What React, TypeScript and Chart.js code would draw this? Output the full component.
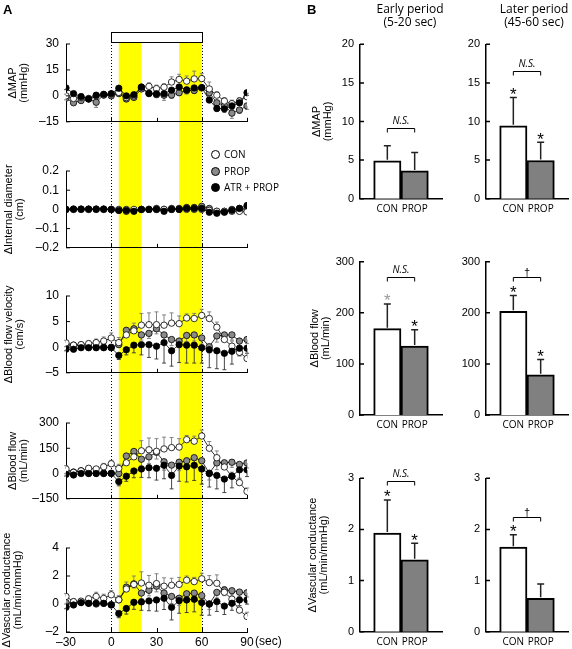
import React, { useEffect, useRef } from 'react';
import { Chart, registerables } from 'chart.js';

Chart.register(...registerables);

const AX = "'Liberation Sans', Arial, Helvetica, sans-serif";
const OS = "'Open Sans', 'Noto Sans', sans-serif";

// ---------------- Panel A data ----------------
const TIMES = [-30, -25, -20, -15, -10, -5, 0, 5, 10, 15, 20, 25, 30, 35, 40, 45, 50, 55, 60, 65, 70, 75, 80, 85, 90];
const STIM_PERIOD = [0, 60];
const EARLY_BAND = [5, 20];
const LATER_BAND = [45, 60];
const GROUPS = ['CON', 'PROP', 'ATR + PROP'];

const MAP_CON = [0, -1.5, -1, -1.5, 0, 0.5, 1, 2, -1, 0, 5, 5.5, 4.2, 5, 8, 9.5, 8.5, 9.8, 10, 4, 0.4, -3, -4.5, -3, -0.5];
const MAP_PROP = [-1.3, -4, -2.7, -1.8, -3.7, 0.5, 0, 1.3, -1.8, -0.9, 4, 1.5, 0.7, 0.4, 0.5, 1.8, 3.1, 3.1, 4.6, 1.8, -4, -5.5, -10, -8.2, -5.8];
const MAP_ATR = [4.6, 1.3, -0.4, -1.8, 0.4, 0.9, 1.3, 4.4, 0, 0.7, 5.1, 1.3, 1.2, 1.3, 3.3, 5.1, 3.5, 4.6, 4.8, -2.4, -7.3, -7.5, -5.8, -4, 1.8];
const MAP_CON_ERR = [1, 1.5, 1, 1, 1.5, 1, 1, 1.5, 1.5, 1, 1.5, 2, 2, 2, 3, 3, 3, 4.5, 3, 4, 2, 2, 2, 2, 2];
const MAP_PROP_ERR = [1, 1, 1.5, 1, 3, 1, 1, 1, 1.5, 1, 1, 1, 1.5, 3, 2, 1.5, 2, 1.5, 1.5, 2, 2, 2, 3, 2, 2];
const MAP_ATR_ERR = [1, 1, 1, 1, 1, 1, 1, 1, 1, 1, 1, 1, 1, 1, 1.5, 1.5, 1.5, 1.5, 1.5, 1.5, 1.5, 2, 2, 1.5, 1.5];

const DIA_CON = [0, 0, 0, 0, 0, 0, 0, 0, 0, 0, 0, 0, 0, 0, 0, 0, 0, 0, 0, -0.005, -0.01, -0.01, -0.01, -0.01, -0.013];
const DIA_PROP = [0, 0, 0, 0, 0, 0, 0, -0.005, -0.01, -0.005, 0, 0, 0.005, 0, 0.005, 0.005, 0.01, 0.01, 0.016, 0.005, -0.01, -0.01, 0, 0.005, 0];
const DIA_ATR = [0, 0.002, 0.002, 0.002, 0.002, 0.002, 0, -0.005, -0.005, -0.01, 0, 0, 0, -0.01, 0, 0, 0.005, 0.005, 0.005, -0.015, -0.02, -0.015, -0.005, 0.005, 0.02];

const VEL_CON = [0.85, 0.4, 0.5, 0.7, 0.9, 1.2, 1.8, 0.9, 2.4, 3.2, 4.3, 4.4, 4.4, 4.3, 4.7, 4.6, 5.7, 5.6, 6.2, 5.6, 3.9, 1.5, 0.2, -1, -2.2];
const VEL_PROP = [0.4, 0.4, 0.4, 0, 0, 0, 0, 0.5, 3.3, 3.6, 2.4, 2.7, 3.6, 2.4, 1.5, 1.2, 2.3, 2.4, 1.8, 0.1, 2.2, 2.4, 2.4, 1.2, 1.5];
const VEL_ATR = [-0.4, -0.4, -0.1, -0.1, -0.1, -0.1, -0.1, -1.6, -0.5, 0.4, 0.5, 0.5, 0.2, 0.9, -0.7, 0.5, 0.4, 0.4, -0.1, -0.5, -0.7, -1.2, -0.8, -0.2, -0.2];
const VEL_CON_ERR = [0.5, 0.5, 0.5, 0.5, 0.7, 0.8, 1, 1, 1, 1.5, 2.3, 2.3, 2.5, 2, 2, 1.5, 0.8, 1, 1.2, 1.3, 1, 1, 1, 1, 1];
const VEL_PROP_ERR = [0.3, 0.3, 0.3, 0.3, 0.3, 0.3, 0.3, 0.5, 0.8, 0.8, 1, 1, 1, 1.2, 1.2, 1.2, 1.2, 1.2, 1.2, 1.2, 1.2, 1.2, 1, 1, 0.8];
const VEL_ATR_ERR = [0.3, 0.3, 0.3, 0.3, 0.3, 0.3, 0.3, 0.8, 1, 1.5, 2, 2.5, 2.5, 4, 3, 3.5, 3.5, 3.5, 3, 3.5, 3.5, 3.2, 2.5, 1.5, 1];

const BF_CON = [27, 7, 16, 31, 27, 40, 58, 30, 64, 99, 135, 141, 132, 146, 154, 157, 201, 192, 223, 150, 94, 39, -17, -54, -106];
const BF_PROP = [9, 9, 16, 2, 2, 2, 2, 0, 104, 131, 85, 99, 126, 70, 50, 67, 76, 94, 76, 2, 63, 64, 67, 54, 63];
const BF_ATR = [-5, -9, 0, 0, 0, 0, 0, -48, -16, 15, 27, 35, 31, 49, -11, 44, 40, 49, 27, 0, -11, -33, -15, 22, 22];
const BF_CON_ERR = [20, 15, 15, 15, 15, 20, 20, 25, 30, 40, 60, 70, 75, 70, 60, 50, 25, 30, 35, 40, 40, 30, 25, 20, 20];
const BF_PROP_ERR = [10, 10, 10, 10, 10, 10, 10, 20, 30, 30, 40, 40, 40, 50, 50, 50, 50, 50, 40, 40, 40, 40, 30, 30, 30];
const BF_ATR_ERR = [10, 10, 10, 10, 10, 10, 10, 25, 30, 40, 50, 60, 70, 80, 80, 90, 90, 90, 90, 80, 80, 80, 70, 50, 40];

const VC_CON = [0.54, 0.17, 0.2, 0.37, 0.54, 0.4, 0.66, 0.3, 1.07, 1.4, 1.5, 1.34, 1.46, 1.27, 1.34, 1.4, 1.7, 1.6, 1.8, 1.53, 1.48, 0.84, 0.35, -0.44, -0.89];
const VC_PROP = [0.1, 0.1, 0.12, 0.05, 0, 0.05, -0.07, 0.3, 1.2, 1.44, 0.78, 0.98, 1.27, 0.78, 0.54, 0.41, 0.73, 0.78, 0.6, 0, 0.83, 1.0, 0.95, 0.85, 0.8];
const VC_ATR = [-0.24, -0.07, 0.1, 0.05, 0.05, 0.05, -0.05, -0.68, -0.32, 0.12, 0.15, 0.22, 0.29, 0.41, -0.24, 0.24, 0.29, 0.34, 0.1, 0, 0.17, -0.15, 0.05, 0.29, 0.29];
const VC_CON_ERR = [0.2, 0.2, 0.2, 0.2, 0.3, 0.3, 0.3, 0.3, 0.5, 0.6, 0.8, 0.7, 0.7, 0.6, 0.5, 0.5, 0.3, 0.3, 0.4, 0.5, 0.6, 0.4, 0.4, 0.3, 0.3];
const VC_PROP_ERR = [0.1, 0.1, 0.1, 0.1, 0.1, 0.1, 0.1, 0.2, 0.3, 0.3, 0.4, 0.4, 0.4, 0.5, 0.5, 0.5, 0.5, 0.5, 0.4, 0.4, 0.4, 0.4, 0.3, 0.3, 0.3];
const VC_ATR_ERR = [0.1, 0.1, 0.1, 0.1, 0.1, 0.1, 0.1, 0.3, 0.4, 0.5, 0.6, 0.7, 0.8, 0.8, 0.9, 0.9, 0.9, 0.9, 0.9, 0.8, 0.7, 0.6, 0.5, 0.4, 0.3];

// ---------------- Panel B data ----------------
const BAR_LABELS = ['CON', 'PROP'];
const BAR_X = [1, 2];
const MAP_EARLY = [4.9, 3.6];
const MAP_EARLY_ERR = [1.95, 2.4];
const MAP_LATER = [9.45, 4.95];
const MAP_LATER_ERR = [3.65, 2.35];
const BF_EARLY = [169, 135];
const BF_EARLY_ERR = [48, 32];
const BF_LATER = [203, 78.6];
const BF_LATER_ERR = [31, 30];
const VC_EARLY = [1.93, 1.405];
const VC_EARLY_ERR = [0.645, 0.325];
const VC_LATER = [1.654, 0.654];
const VC_LATER_ERR = [0.24, 0.28];

const COL_CON = '#ffffff';
const COL_PROP_BAR = '#808080';
const COL_PROP_PT = '#8a8a8a';

const fmt = (dec: number) => (v: any) => {
  const n = Number(Number(v).toFixed(dec));
  return n < 0 ? '\u2013' + Math.abs(n) : String(n);
};

// ---------------- plugins ----------------
const innerTicks = {
  id: 'innerTicks',
  afterDraw(chart: any, _a: any, o: any) {
    if (!o || (!o.x && !o.y)) return;
    const { ctx, chartArea } = chart;
    ctx.save();
    ctx.strokeStyle = '#000';
    ctx.lineWidth = o.width || 1;
    ctx.beginPath();
    if (o.x) {
      const s = chart.scales.x;
      s.ticks.forEach((_t: any, i: number) => {
        const px = Math.round(s.getPixelForTick(i)) + 0.5;
        ctx.moveTo(px, chartArea.bottom);
        ctx.lineTo(px, chartArea.bottom - o.x);
      });
    }
    if (o.y) {
      const s = chart.scales.y;
      s.ticks.forEach((_t: any, i: number) => {
        const py = s.getPixelForTick(i);
        ctx.moveTo(chartArea.left, py);
        ctx.lineTo(chartArea.left + o.y, py);
      });
    }
    ctx.stroke();
    ctx.restore();
  },
};

const errBars = {
  id: 'errBars',
  beforeDatasetsDraw(chart: any) {
    const { ctx } = chart;
    const ys = chart.scales.y;
    chart.data.datasets.forEach((ds: any, di: number) => {
      if (!ds.errs) return;
      const meta = chart.getDatasetMeta(di);
      ctx.save();
      ctx.strokeStyle = ds.errColor;
      ctx.lineWidth = 0.9;
      ctx.beginPath();
      meta.data.forEach((pt: any, i: number) => {
        const v = ds.data[i].y;
        const y2 = ys.getPixelForValue(v + ds.errs[i] * ds.errDir);
        ctx.moveTo(pt.x, pt.y);
        ctx.lineTo(pt.x, y2);
        ctx.moveTo(pt.x - 2, y2);
        ctx.lineTo(pt.x + 2, y2);
      });
      ctx.stroke();
      ctx.restore();
    });
  },
};

const BAND_TOP = 42;
const BAND_BOTTOM = 632;
const BOX_TOP = 32;

const bgPanel = {
  id: 'bgPanel',
  beforeDraw(chart: any) {
    const { ctx } = chart;
    const xs = chart.scales.x;
    const px = (v: number) => xs.getPixelForValue(v);
    ctx.save();
    ctx.fillStyle = '#ffff00';
    [EARLY_BAND, LATER_BAND].forEach(([a, b]) => {
      ctx.fillRect(px(a), BAND_TOP, px(b) - px(a), BAND_BOTTOM - BAND_TOP);
    });
    ctx.strokeStyle = '#000';
    ctx.lineWidth = 1;
    ctx.setLineDash([1, 2]);
    STIM_PERIOD.forEach((v) => {
      const x = Math.round(px(v)) + 0.5;
      ctx.beginPath();
      ctx.moveTo(x, BAND_TOP);
      ctx.lineTo(x, BAND_BOTTOM);
      ctx.stroke();
    });
    ctx.setLineDash([]);
    const x0 = Math.round(px(STIM_PERIOD[0])) + 0.5;
    const x1 = Math.round(px(STIM_PERIOD[1])) + 0.5;
    ctx.fillStyle = '#fff';
    ctx.fillRect(x0, BOX_TOP + 0.5, x1 - x0, BAND_TOP - BOX_TOP);
    ctx.strokeRect(x0, BOX_TOP + 0.5, x1 - x0, BAND_TOP - BOX_TOP);
    ctx.restore();
  },
};

const barExtras = {
  id: 'barExtras',
  afterDatasetsDraw(chart: any, _a: any, o: any) {
    const { ctx } = chart;
    const xs = chart.scales.x;
    const ys = chart.scales.y;
    const ds = chart.data.datasets[0];
    ctx.save();
    ds.data.forEach((d: any, i: number) => {
      const x = xs.getPixelForValue(d.x);
      const y0 = ys.getPixelForValue(d.y) - 1;
      const y1 = ys.getPixelForValue(d.y + o.errs[i]);
      ctx.strokeStyle = '#222';
      ctx.lineWidth = 1.5;
      ctx.beginPath();
      ctx.moveTo(x, y0);
      ctx.lineTo(x, y1);
      ctx.moveTo(x - 3.5, y1);
      ctx.lineTo(x + 3.5, y1);
      ctx.stroke();
      if (o.stars[i]) {
        ctx.fillStyle = o.starColors[i];
        ctx.font = `17px ${AX}`;
        ctx.textAlign = 'center';
        ctx.textBaseline = 'alphabetic';
        ctx.fillText('*', x, y1 - 7.5 + 0.575 * 17);
      }
    });
    const b = o.bracket;
    const xa = xs.getPixelForValue(ds.data[0].x);
    const xb = xs.getPixelForValue(ds.data[1].x);
    const yb = Math.round(ys.getPixelForValue(b.y)) + 0.5;
    ctx.strokeStyle = '#000';
    ctx.lineWidth = 1;
    ctx.beginPath();
    ctx.moveTo(xa, yb + 4);
    ctx.lineTo(xa, yb);
    ctx.lineTo(xb, yb);
    ctx.lineTo(xb, yb + 4);
    ctx.stroke();
    ctx.fillStyle = '#000';
    ctx.textAlign = 'center';
    ctx.textBaseline = 'alphabetic';
    if (b.label === 'N.S.') {
      ctx.font = `italic 10px ${OS}`;
      ctx.fillText(b.label, (xa + xb) / 2, yb - 5);
    } else {
      ctx.font = `11px ${AX}`;
      ctx.fillText(b.label, (xa + xb) / 2, yb - 2);
    }
    ctx.restore();
  },
};

// ---------------- config builders ----------------
type Built = { left: number; top: number; width: number; height: number; config: any };

function buildBackground(): Built {
  return {
    left: 0, top: 0, width: 260, height: 649,
    config: {
      type: 'scatter',
      data: { datasets: [] },
      options: {
        responsive: false, animation: false, devicePixelRatio: 1,
        layout: { padding: { left: 66, right: 13, top: 0, bottom: 0 } },
        plugins: { legend: { display: false }, tooltip: { enabled: false } },
        scales: {
          x: { type: 'linear', min: -30, max: 90, display: false },
          y: { type: 'linear', min: 0, max: 1, display: false },
        },
      },
      plugins: [bgPanel],
    },
  };
}

type LineSpec = {
  T: number; B: number; min: number; max: number; step: number; dec: number;
  title: string[]; titlePad: number;
  con: number[]; prop: number[]; atr: number[];
  conErr?: number[]; propErr?: number[]; atrErr?: number[];
  last?: boolean;
};

function buildLine(s: LineSpec): Built {
  const top = Math.floor(s.T) - 18;
  const xH = s.last ? 20 : 0;
  const extra = s.last ? 0 : 8;
  const height = Math.ceil(s.B + xH + extra) - top;
  const padTop = s.T - top;
  const padB = height - (s.B - top) - xH;
  const mk = (label: string, vals: number[], errs: number[] | undefined, dir: number, fill: string, errColor: string) => ({
    label,
    data: TIMES.map((t, i) => ({ x: t, y: vals[i] })),
    errs, errDir: dir, errColor,
    borderColor: '#000', borderWidth: 0.8,
    pointRadius: 3.2, pointHoverRadius: 3.2,
    pointBackgroundColor: fill, pointBorderColor: '#000', pointBorderWidth: 0.8,
    fill: false, tension: 0,
  });
  return {
    left: 0, top, width: 260, height,
    config: {
      type: 'line',
      data: {
        datasets: [
          mk(GROUPS[2], s.atr, s.atrErr, -1, '#000', '#333'),
          mk(GROUPS[0], s.con, s.conErr, 1, COL_CON, '#777'),
          mk(GROUPS[1], s.prop, s.propErr, -1, COL_PROP_PT, '#777'),
        ],
      },
      options: {
        responsive: false, animation: false, devicePixelRatio: 1,
        layout: { padding: { left: 0, right: 13, top: padTop, bottom: padB } },
        plugins: { legend: { display: false }, tooltip: { enabled: false }, innerTicks: { x: 4, y: 4, width: 1 } },
        scales: {
          x: {
            type: 'linear', min: -30, max: 90,
            ticks: { stepSize: 30, display: !!s.last, padding: 3, maxRotation: 0, autoSkip: false, font: { family: AX, size: 12 }, color: '#000', callback: fmt(0) },
            grid: { display: false, drawTicks: false },
            border: { display: true, color: '#000', width: 1 },
            afterFit: (sc: any) => { sc.height = xH; },
          },
          y: {
            type: 'linear', min: s.min, max: s.max,
            ticks: { stepSize: s.step, padding: 7, font: { family: AX, size: 12 }, color: '#000', callback: fmt(s.dec) },
            grid: { display: false, drawTicks: false },
            border: { display: true, color: '#000', width: 1 },
            title: { display: true, text: s.title, color: '#000', font: { family: AX, size: 11, lineHeight: 1 }, padding: { top: s.titlePad, bottom: 0 } },
            afterFit: (sc: any) => { sc.width = 66; },
          },
        },
      },
      plugins: [errBars, innerTicks],
    },
  };
}

type BarSpec = {
  left: number; width: number; yWidth: number; axisEnd: number;
  T: number; B: number; max: number; step: number;
  vals: number[]; errs: number[]; stars: boolean[]; starColors: string[];
  bracket: { y: number; label: string };
  title?: string[]; titlePad?: number;
};

function buildBar(s: BarSpec): Built {
  const top = Math.floor(s.T) - 36;
  const height = Math.ceil(s.B + 20) - top;
  const padTop = s.T - top;
  const padB = height - (s.B - top) - 20;
  const padR = s.left + s.width - s.axisEnd;
  return {
    left: s.left, top, width: s.width, height,
    config: {
      type: 'bar',
      data: {
        datasets: [{
          label: 'bars',
          data: BAR_X.map((x, i) => ({ x, y: s.vals[i] })),
          backgroundColor: [COL_CON, COL_PROP_BAR],
          borderColor: '#000', borderWidth: 2,
          barPercentage: 1, categoryPercentage: 1,
        }],
      },
      options: {
        responsive: false, animation: false, devicePixelRatio: 1,
        layout: { padding: { left: 0, right: padR, top: padTop, bottom: padB } },
        plugins: {
          legend: { display: false }, tooltip: { enabled: false },
          innerTicks: { y: 4, width: 1.5 },
          barExtras: { errs: s.errs, stars: s.stars, starColors: s.starColors, bracket: s.bracket },
        },
        scales: {
          x: {
            type: 'linear', min: 0, max: 3, offset: false,
            ticks: {
              stepSize: 1, padding: 4, maxRotation: 0, autoSkip: false, color: '#000',
              font: { family: OS, size: 10 },
              callback: (v: any) => { const i = BAR_X.indexOf(Number(v)); return i >= 0 ? BAR_LABELS[i] : ''; },
            },
            grid: { display: false, drawTicks: false },
            border: { display: true, color: '#000', width: 1.5 },
            afterFit: (sc: any) => { sc.height = 20; },
          },
          y: {
            type: 'linear', min: 0, max: s.max,
            ticks: { stepSize: s.step, padding: 6, font: { family: AX, size: 11 }, color: '#000', callback: fmt(0) },
            grid: { display: false, drawTicks: false },
            border: { display: true, color: '#000', width: 1.5 },
            title: s.title
              ? { display: true, text: s.title, color: '#000', font: { family: AX, size: 11, lineHeight: 1 }, padding: { top: s.titlePad || 0, bottom: 0 } }
              : { display: false },
            afterFit: (sc: any) => { sc.width = s.yWidth; },
          },
        },
      },
      plugins: [innerTicks, barExtras],
    },
  };
}

const LINE_SPECS: LineSpec[] = [
  { T: 44, B: 128, min: -15, max: 30, step: 15, dec: 0, title: ['\u0394MAP', '(mmHg)'], titlePad: 7,
    con: MAP_CON, prop: MAP_PROP, atr: MAP_ATR, conErr: MAP_CON_ERR, propErr: MAP_PROP_ERR, atrErr: MAP_ATR_ERR },
  { T: 171, B: 254, min: -0.2, max: 0.2, step: 0.1, dec: 1, title: ['\u0394Internal diameter', '(cm)'], titlePad: 3.5,
    con: DIA_CON, prop: DIA_PROP, atr: DIA_ATR },
  { T: 296, B: 379, min: -5, max: 10, step: 5, dec: 0, title: ['\u0394Blood flow velocity', '(cm/s)'], titlePad: 3.5,
    con: VEL_CON, prop: VEL_PROP, atr: VEL_ATR, conErr: VEL_CON_ERR, propErr: VEL_PROP_ERR, atrErr: VEL_ATR_ERR },
  { T: 423, B: 505, min: -150, max: 300, step: 150, dec: 0, title: ['\u0394Blood flow', '(mL/min)'], titlePad: 7.5,
    con: BF_CON, prop: BF_PROP, atr: BF_ATR, conErr: BF_CON_ERR, propErr: BF_PROP_ERR, atrErr: BF_ATR_ERR },
  { T: 548, B: 632, min: -2, max: 4, step: 2, dec: 0, title: ['\u0394Vascular conductance', '(mL/min/mmHg)'], titlePad: 1.5,
    con: VC_CON, prop: VC_PROP, atr: VC_ATR, conErr: VC_CON_ERR, propErr: VC_PROP_ERR, atrErr: VC_ATR_ERR, last: true },
];

const LEFT_COL = { left: 300, width: 148, yWidth: 60, axisEnd: 442 };
const RIGHT_COL = { left: 448, width: 124, yWidth: 38, axisEnd: 570 };
const BLACK2 = ['#000', '#000'];

const BAR_SPECS: BarSpec[] = [
  { ...LEFT_COL, T: 44.3, B: 198.7, max: 20, step: 5, vals: MAP_EARLY, errs: MAP_EARLY_ERR, stars: [false, false], starColors: BLACK2,
    bracket: { y: 9.1, label: 'N.S.' }, title: ['\u0394MAP', '(mmHg)'], titlePad: 11.5 },
  { ...RIGHT_COL, T: 44.3, B: 198.7, max: 20, step: 5, vals: MAP_LATER, errs: MAP_LATER_ERR, stars: [true, true], starColors: BLACK2,
    bracket: { y: 16.5, label: 'N.S.' } },
  { ...LEFT_COL, T: 261.7, B: 415, max: 300, step: 100, vals: BF_EARLY, errs: BF_EARLY_ERR, stars: [true, true], starColors: ['#999', '#000'],
    bracket: { y: 271, label: 'N.S.' }, title: ['\u0394Blood flow', '(mL/min)'], titlePad: 9.5 },
  { ...RIGHT_COL, T: 261.7, B: 415, max: 300, step: 100, vals: BF_LATER, errs: BF_LATER_ERR, stars: [true, true], starColors: BLACK2,
    bracket: { y: 271, label: '\u2020' } },
  { ...LEFT_COL, T: 478.3, B: 631.7, max: 3, step: 1, vals: VC_EARLY, errs: VC_EARLY_ERR, stars: [true, true], starColors: BLACK2,
    bracket: { y: 2.95, label: 'N.S.' }, title: ['\u0394Vascular conductance', '(mL/min/mmHg)'], titlePad: 7.5 },
  { ...RIGHT_COL, T: 478.3, B: 631.7, max: 3, step: 1, vals: VC_LATER, errs: VC_LATER_ERR, stars: [true, false], starColors: BLACK2,
    bracket: { y: 2.235, label: '\u2020' } },
];

function ChartBox({ build }: { build: () => Built }) {
  const ref = useRef<HTMLCanvasElement>(null);
  const b = build();
  useEffect(() => {
    const chart = new Chart(ref.current as HTMLCanvasElement, build().config);
    return () => chart.destroy();
  }, []);
  return (
    <canvas
      ref={ref}
      width={b.width}
      height={b.height}
      style={{ position: 'absolute', left: b.left, top: b.top, width: b.width, height: b.height }}
    />
  );
}

const LEGEND_FILLS = [COL_CON, COL_PROP_PT, '#000'];

export default function App() {
  return (
    <div style={{ position: 'fixed', left: 0, top: 0, width: 572, height: 649, background: '#fff', overflow: 'hidden' }}>
      <ChartBox build={buildBackground} />
      {LINE_SPECS.map((s, i) => <ChartBox key={'l' + i} build={() => buildLine(s)} />)}
      {BAR_SPECS.map((s, i) => <ChartBox key={'b' + i} build={() => buildBar(s)} />)}

      <div style={{ position: 'absolute', left: 3, top: 2, font: `bold 13px ${AX}` }}>A</div>
      <div style={{ position: 'absolute', left: 307, top: 2, font: `bold 13px ${AX}` }}>B</div>

      <div style={{ position: 'absolute', left: 350, top: 2, width: 120, textAlign: 'center', font: `12px/13px ${OS}` }}>
        Early period<br />(5-20 sec)
      </div>
      <div style={{ position: 'absolute', left: 474, top: 2, width: 120, textAlign: 'center', font: `12px/13px ${OS}` }}>
        Later period<br />(45-60 sec)
      </div>

      {GROUPS.map((g, i) => (
        <div key={g} style={{ position: 'absolute', left: 211, top: [154, 171, 187][i] - 7, height: 14, display: 'flex', alignItems: 'center' }}>
          <span style={{ display: 'inline-block', width: 7, height: 7, borderRadius: '50%', border: '1px solid #000', background: LEGEND_FILLS[i] }} />
          <span style={{ marginLeft: 4, font: `10px ${OS}`, color: '#000' }}>{g}</span>
        </div>
      ))}

      <div style={{ position: 'absolute', left: 255, top: 635, font: `12px/13px ${AX}` }}>(sec)</div>
    </div>
  );
}
